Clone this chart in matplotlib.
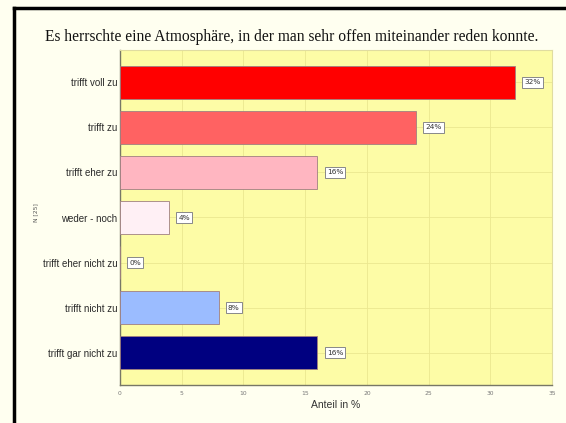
import matplotlib
matplotlib.use("Agg")
import matplotlib.pyplot as plt
from matplotlib.lines import Line2D

categories = ["trifft voll zu", "trifft zu", "trifft eher zu", "weder - noch",
              "trifft eher nicht zu", "trifft nicht zu", "trifft gar nicht zu"]
values = [32, 24, 16, 4, 0, 8, 16]
labels = ["32%", "24%", "16%", "4%", "0%", "8%", "16%"]
colors = ["#ff0000", "#ff6262", "#ffb6c1", "#fff0f5", "#ffffff", "#9bbcff", "#000080"]
xticks = [0, 5, 10, 15, 20, 25, 30, 35]

fig = plt.figure(figsize=(5.66, 4.23), dpi=100)
fig.patch.set_facecolor("#fffff0")
ax = fig.add_axes([120/566, 1-385/423, 432/566, 335/423])
ax.set_facecolor("#fdfca6")

y = list(range(len(categories)))
ax.barh(y, values, height=0.74, color=colors, edgecolor="#a08080", linewidth=0.6, zorder=3)
for yi, v, lab in zip(y, values, labels):
    ax.text(v + 0.75, yi, lab, fontsize=5.3, family="DejaVu Sans", color="#333333",
            va="center", ha="left", zorder=4,
            bbox=dict(boxstyle="square,pad=0.3", fc="#ffffff", ec="#888888", lw=0.7))

ax.set_xlim(0, 35)
ax.set_ylim(6.72, -0.72)
ax.set_xticks(xticks)
ax.set_xticklabels([str(t) for t in xticks], fontsize=4.3, color="#777777")
ax.set_yticks(y)
ax.set_yticklabels(categories, fontsize=7.0, color="#2a2a2a", family="Liberation Sans")
ax.tick_params(axis="both", length=0, pad=2)
ax.tick_params(axis="x", pad=4)
ax.grid(True, color="#ebe790", linewidth=0.6, zorder=0)
ax.set_axisbelow(True)
for s in ["top", "right"]:
    ax.spines[s].set_color("#e0dca0")
for s in ["left", "bottom"]:
    ax.spines[s].set_color("#777766")
    ax.spines[s].set_linewidth(1.0)

ax.set_xlabel("Anteil in %", fontsize=7.5, color="#333333", family="Liberation Sans", labelpad=3)
fig.text(36/566, 1-213/423, "N [25]", rotation=90, fontsize=4.3, color="#555555",
         ha="center", va="center")
fig.text(292/566, 1-37/423, "Es herrschte eine Atmosphäre, in der man sehr offen miteinander reden konnte.",
         fontsize=11.2, family="Liberation Serif", color="#111111", ha="center", va="center")

fig.add_artist(Line2D([14/566, 14/566], [0, 1-8/423], transform=fig.transFigure, color="black", lw=2.5))
fig.add_artist(Line2D([14/566, 1], [1-8/423, 1-8/423], transform=fig.transFigure, color="black", lw=2.5))

fig.savefig("out.png", dpi=100, facecolor=fig.get_facecolor())
